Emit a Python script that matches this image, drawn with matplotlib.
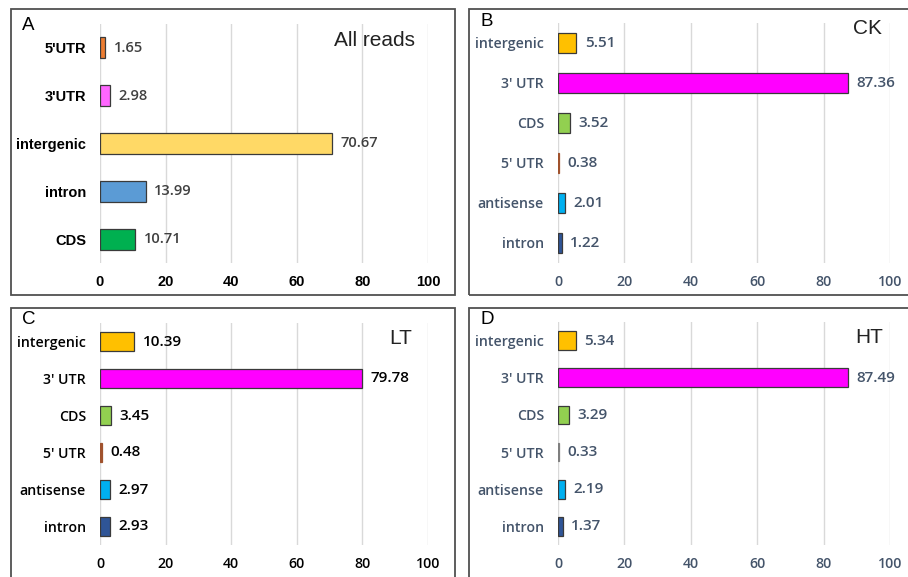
import matplotlib
matplotlib.use("Agg")
import matplotlib.pyplot as plt
from matplotlib.patches import Rectangle

W, H = 908, 577

# panel A - all reads
a_cats = ["5'UTR", "3'UTR", "intergenic", "intron", "CDS"]
a_vals = [1.65, 2.98, 70.67, 13.99, 10.71]
a_cols = ["#ED7D31", "#FF66FF", "#FFD966", "#5B9BD5", "#00B050"]

# panels B-D share categories
bcd_cats = ["intergenic", "3' UTR", "CDS", "5' UTR", "antisense", "intron"]
ck_vals = [5.51, 87.36, 3.52, 0.38, 2.01, 1.22]
lt_vals = [10.39, 79.78, 3.45, 0.48, 2.97, 2.93]
ht_vals = [5.34, 87.49, 3.29, 0.33, 2.19, 1.37]
bc_cols = ["#FFC000", "#FF00FF", "#92D050", "#A0522D", "#00B0F0", "#2F5597"]
d_cols = ["#FFC000", "#FF00FF", "#92D050", "#7F7F7F", "#00B0F0", "#2F5597"]

ticks = [0, 20, 40, 60, 80, 100]

fig = plt.figure(figsize=(W / 100, H / 100), dpi=100)


def px_axes(l, t, r, b):
    return fig.add_axes([l / W, 1 - b / H, (r - l) / W, (b - t) / H])


def border(l, t, r, b):
    fig.patches.append(Rectangle((l / W, 1 - b / H), (r - l) / W, (b - t) / H,
                                 transform=fig.transFigure, fill=False,
                                 edgecolor="#505050", lw=1.3))


def panel(ax, cats, vals, cols, hgt, txtc, valc, lab_font, lab_weight, val_font, val_weight,
          fs=10.5, vfs=10.5):
    y = list(range(len(cats)))
    edges = [c if v < 1 else "#3a3a3a" for c, v in zip(cols, vals)]
    ax.barh(y, vals, height=hgt, color=cols, edgecolor=edges, lw=0.9, zorder=3)
    for yi, v in zip(y, vals):
        ax.annotate(f"{v:.2f}", (v, yi), xytext=(6, 0), textcoords="offset points",
                    va="center", ha="left", fontsize=vfs, color=valc,
                    family=val_font, weight=val_weight)
    ax.set_xlim(0, 100)
    ax.set_ylim(len(cats) - 0.5, -0.5)
    ax.set_xticks(ticks)
    ax.set_yticks(y)
    ax.set_yticklabels(cats, family=lab_font, weight=lab_weight, color=txtc, fontsize=fs)
    ax.set_xticklabels([str(t) for t in ticks], family=lab_font, weight=lab_weight,
                       color=txtc, fontsize=fs)
    ax.tick_params(length=0, axis="y", pad=10)
    ax.tick_params(length=0, axis="x", pad=9)
    ax.grid(axis="x", color="#D9D9D9", lw=1, zorder=0)
    for s in ax.spines.values():
        s.set_visible(False)
    ax.set_facecolor("none")


sans = ["Open Sans", "DejaVu Sans"]

border(11, 9, 455, 295)
border(469, 9, 912, 295)
border(11, 308, 455, 582)
border(469, 308, 912, 582)

axA = px_axes(100, 24, 428, 263)
panel(axA, a_cats, a_vals, a_cols, 0.44, "black", "#404040",
      "Liberation Sans", "bold", sans, "semibold")
axA.text(0.96, 0.93, "All reads", transform=axA.transAxes, ha="right", va="center",
         fontsize=15, family="Liberation Sans", color="#222222")

axB = px_axes(558, 23, 890, 263)
panel(axB, bcd_cats, ck_vals, bc_cols, 0.5, "#44546A", "#44546A",
      sans, "semibold", sans, "semibold", fs=10.2, vfs=11)
axB.text(0.976, 0.975, "CK", transform=axB.transAxes, ha="right", va="center",
         fontsize=15, family="Liberation Sans", color="#222222")

axC = px_axes(100, 323, 428, 545)
panel(axC, bcd_cats, lt_vals, bc_cols, 0.5, "black", "black",
      sans, "semibold", sans, "semibold", fs=10.2, vfs=11)
axC.text(0.951, 0.93, "LT", transform=axC.transAxes, ha="right", va="center",
         fontsize=15, family="Liberation Sans", color="#222222")

axD = px_axes(558, 322, 890, 545)
panel(axD, bcd_cats, ht_vals, d_cols, 0.5, "#44546A", "#44546A",
      sans, "semibold", sans, "semibold", fs=10.2, vfs=11)
axD.text(0.979, 0.93, "HT", transform=axD.transAxes, ha="right", va="center",
         fontsize=15, family="Liberation Sans", color="#222222")

for lab, x, y in [("A", 22, 25), ("B", 481, 21), ("C", 22, 319), ("D", 480, 319)]:
    fig.text(x / W, 1 - y / H, lab, fontsize=13.5, family="Liberation Sans",
             ha="left", va="center", color="black")

fig.savefig("out.png", dpi=100)
